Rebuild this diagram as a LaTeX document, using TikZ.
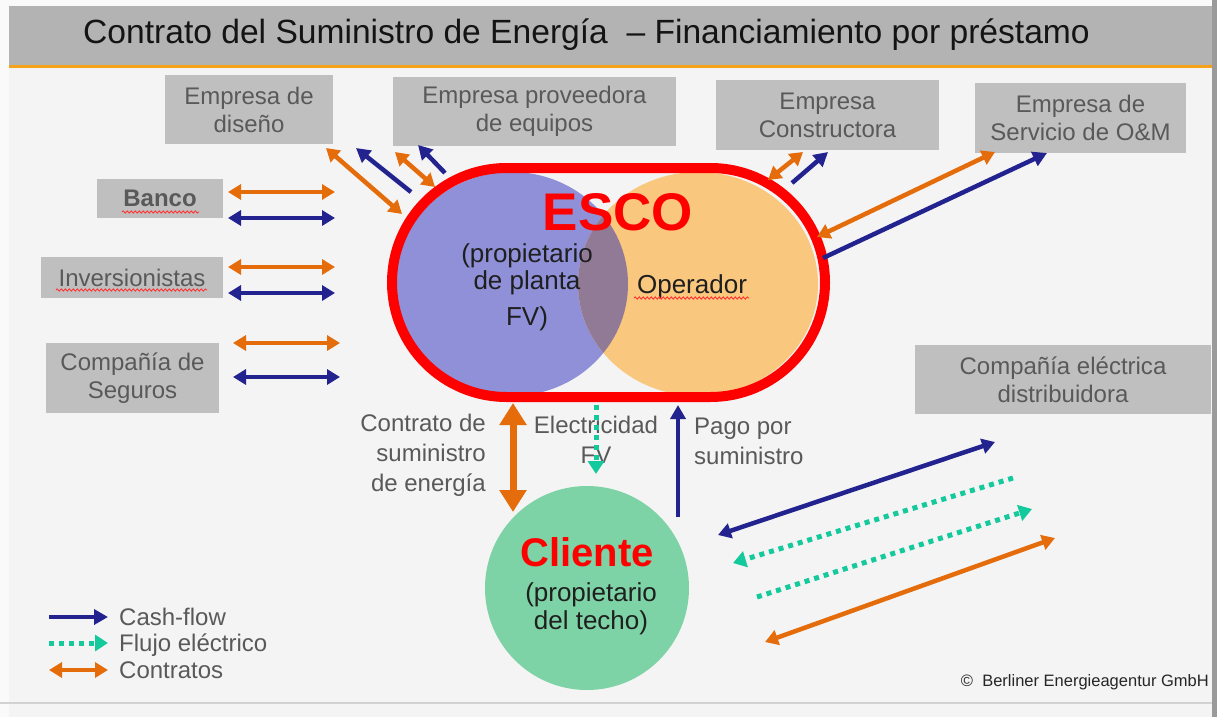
\documentclass[tikz,border=0pt]{standalone}
\usepackage{fontspec}
\setmainfont{Liberation Sans}
\usetikzlibrary{arrows.meta,decorations.pathmorphing,shapes.misc,shapes.geometric}
\definecolor{bgc}{HTML}{F4F4F4}
\definecolor{marginc}{HTML}{FAFAFA}
\definecolor{titlec}{HTML}{B3B3B3}
\definecolor{tlinec}{HTML}{F5A21B}
\definecolor{boxc}{HTML}{BFBFBF}
\definecolor{txtc}{HTML}{595959}
\definecolor{orac}{HTML}{E46C0A}
\definecolor{bluc}{HTML}{232390}
\definecolor{grnc}{HTML}{14C99B}
\definecolor{ownc}{HTML}{8F90D7}
\definecolor{opc}{HTML}{F9C77D}
\definecolor{ovc}{HTML}{917A96}
\definecolor{clic}{HTML}{7DD3A5}
\definecolor{redc}{HTML}{FF0000}
\definecolor{edgec}{HTML}{9A9A9A}
\definecolor{botc}{HTML}{D2D2D2}
\tikzset{
  gbox/.style={fill=boxc, text=txtc, font=\fontsize{24pt}{28pt}\selectfont, align=center, inner sep=0pt},
  lbl/.style={text=txtc, font=\fontsize{24pt}{30pt}\selectfont, inner sep=0pt},
  intxt/.style={text=black!88, font=\fontsize{26pt}{27pt}\selectfont, inner sep=0pt, align=center},
  oarr/.style={draw=orac, line width=4.5pt, arrows={Triangle[length=13pt,width=15pt]-Triangle[length=13pt,width=15pt]}},
  barr2/.style={draw=bluc, line width=4.5pt, arrows={Triangle[length=13pt,width=15pt]-Triangle[length=13pt,width=15pt]}},
  barr/.style={draw=bluc, line width=4.5pt, arrows={-Triangle[length=14pt,width=15pt]}},
  garr/.style={draw=grnc, line width=5pt, dash pattern=on 5pt off 5pt, arrows={-Triangle[length=13pt,width=16pt]}},
  wavy/.style={draw=redc!80!white, line width=0.9pt, decorate, decoration={snake, amplitude=1.1pt, segment length=4pt}}
}
\begin{document}
\begin{tikzpicture}[x=1pt,y=-1pt]
\useasboundingbox (0,0) rectangle (1217,717);
\fill[marginc] (0,0) rectangle (1217,717);
\fill[bgc] (9,6) rectangle (1212,717);
% title bar
\fill[titlec] (9,6) rectangle (1212,65);
\fill[tlinec] (9,65) rectangle (1212,67.5);
\node[font=\fontsize{33.6pt}{37pt}\selectfont, text=black!92, anchor=base, inner sep=0pt] (title) at (586.5,44) {Contrato del Suministro de Energía\ \ – Financiamiento por préstamo};
% frame edges
\fill[edgec] (1212,0) rectangle (1217,717);
\fill[botc] (0,701.5) rectangle (1212,703.5);

% boxes
\node[gbox, minimum width=168pt, minimum height=69pt] (dis) at (249,109.5) {Empresa de\\diseño};
\node[gbox, minimum width=283pt, minimum height=69pt] (prov) at (534.5,111.5) {Empresa proveedora\\de equipos};
\node[gbox, minimum width=223pt, minimum height=70pt] (cons) at (827.5,115) {Empresa\\Constructora};
\node[gbox, minimum width=211pt, minimum height=70pt] (om) at (1080.5,118) {Empresa de\\Servicio de O\&M};
\node[gbox, minimum width=126pt, minimum height=39pt, font=\bfseries\fontsize{24pt}{28pt}\selectfont] (banco) at (160,198.5) {Banco};
\node[gbox, minimum width=182pt, minimum height=41pt] (inv) at (132,277.5) {Inversionistas};
\node[gbox, minimum width=173pt, minimum height=70pt] (seg) at (132.5,378) {Compañía de\\Seguros};
\node[gbox, minimum width=296pt, minimum height=69pt] (dist) at (1063,379.5) {Compañía eléctrica\\distribuidora};

% ESCO
\begin{scope}
  \clip[rounded corners=114.5pt] (392,168) rectangle (825,397);
  \fill[ownc] (511.5,284) ellipse [x radius=116.5pt, y radius=112pt];
  \fill[opc] (698,284) ellipse [x radius=120pt, y radius=112pt];
  \clip (511.5,284) ellipse [x radius=116.5pt, y radius=112pt];
  \fill[ovc] (698,284) ellipse [x radius=120pt, y radius=112pt];
\end{scope}
\node[rounded rectangle, draw=redc, line width=10pt, minimum width=433pt, minimum height=229pt, inner sep=0pt] (esco) at (608.5,282.5) {};
\node[text=redc, font=\bfseries\fontsize{53pt}{56pt}\selectfont, anchor=base, inner sep=0pt] (escot) at (618,230) {ESCO};
\node[intxt, anchor=base] (own1) at (527,262) {(propietario};
\node[intxt, anchor=base] (own2) at (527,289) {de planta};
\node[intxt, anchor=base] (own3) at (527,325) {FV)};
\node[intxt, anchor=base] (oper) at (692,293) {Operador};

% Cliente
\node[circle, fill=clic, minimum size=204pt, inner sep=0pt] (cli) at (587,588) {};
\node[text=redc, font=\bfseries\fontsize{40pt}{44pt}\selectfont, anchor=base, inner sep=0pt] (clit) at (587,566) {Cliente};
\node[intxt, anchor=base] (cli1) at (591,601) {(propietario};
\node[intxt, anchor=base] (cli2) at (591,629) {del techo)};

% wavy underlines
\coordinate (wb1) at (122,212); \coordinate (wb2) at (199,212);
\coordinate (wi1) at (56,290); \coordinate (wi2) at (207,290);
\coordinate (wo1) at (634,298); \coordinate (wo2) at (749,298);
\draw[wavy] (wb1) -- (wb2);
\draw[wavy] (wi1) -- (wi2);
\draw[wavy] (wo1) -- (wo2);

% labels
\node[lbl, align=right, anchor=east] (lcon) at (486,455) {Contrato de\\suministro\\de energía};
\node[lbl, align=center] (lele) at (596,440) {Electricidad\\FV};
\node[lbl, align=left, anchor=west] (lpag) at (694,441) {Pago por\\suministro};

% left arrows
\coordinate (a1) at (228,192); \coordinate (b1) at (335,192);
\coordinate (a2) at (228,218); \coordinate (b2) at (335,218);
\coordinate (a3) at (228,267); \coordinate (b3) at (335,267);
\coordinate (a4) at (228,293); \coordinate (b4) at (335,293);
\coordinate (a5) at (233,343); \coordinate (b5) at (340,343);
\coordinate (a6) at (233,377); \coordinate (b6) at (340,377);
\draw[oarr] (a1) -- (b1);
\draw[barr2] (a2) -- (b2);
\draw[oarr] (a3) -- (b3);
\draw[barr2] (a4) -- (b4);
\draw[oarr] (a5) -- (b5);
\draw[barr2] (a6) -- (b6);

% top arrows
\coordinate (t1a) at (326,148); \coordinate (t1b) at (402,214);
\coordinate (t2a) at (411,192); \coordinate (t2b) at (356,148);
\coordinate (t3a) at (395,152); \coordinate (t3b) at (435,187);
\coordinate (t4a) at (445,173); \coordinate (t4b) at (418,145);
\draw[oarr] (t1a) -- (t1b);
\draw[barr] (t2a) -- (t2b);
\draw[oarr] (t3a) -- (t3b);
\draw[barr] (t4a) -- (t4b);
\coordinate (c1a) at (768,180); \coordinate (c1b) at (803,152);
\coordinate (c2a) at (792,183); \coordinate (c2b) at (828,152);
\draw[oarr] (c1a) -- (c1b);
\draw[barr] (c2a) -- (c2b);
\coordinate (m1a) at (817,237); \coordinate (m1b) at (995,152);
\coordinate (m2a) at (823,258); \coordinate (m2b) at (1047,153);
\draw[oarr] (m1a) -- (m1b);
\draw[barr] (m2a) -- (m2b);

% vertical arrows
\coordinate (v1a) at (513,403); \coordinate (v1b) at (513,512);
\draw[draw=orac, line width=7pt, arrows={Triangle[length=22pt,width=26pt]-Triangle[length=22pt,width=26pt]}] (v1a) -- (v1b);
\coordinate (v2a) at (596,405); \coordinate (v2b) at (596,474);
\draw[garr] (v2a) -- (v2b);
\coordinate (v3a) at (678,517); \coordinate (v3b) at (678,405);
\draw[barr] (v3a) -- (v3b);

% right diagonal arrows
\coordinate (r1a) at (718,535); \coordinate (r1b) at (995,442);
\coordinate (r2a) at (1013,478); \coordinate (r2b) at (733,563);
\coordinate (r3a) at (757,597); \coordinate (r3b) at (1032,509);
\coordinate (r4a) at (765,642); \coordinate (r4b) at (1055,538);
\draw[barr2] (r1a) -- (r1b);
\draw[garr] (r2a) -- (r2b);
\draw[garr] (r3a) -- (r3b);
\draw[oarr] (r4a) -- (r4b);

% legend
\coordinate (g1a) at (49,617); \coordinate (g1b) at (108,617);
\coordinate (g2a) at (49,643); \coordinate (g2b) at (108,643);
\coordinate (g3a) at (49,670); \coordinate (g3b) at (108,670);
\draw[barr] (g1a) -- (g1b);
\draw[garr] (g2a) -- (g2b);
\draw[oarr] (g3a) -- (g3b);
\node[lbl, anchor=base west] (lg1) at (119,625) {Cash-flow};
\node[lbl, anchor=base west] (lg2) at (119,651) {Flujo eléctrico};
\node[lbl, anchor=base west] (lg3) at (119,678) {Contratos};

% copyright
\node[font=\fontsize{16.5pt}{18pt}\selectfont, text=black!85, anchor=base east, inner sep=0pt] (copy) at (1209,686) {©\ \ Berliner Energieagentur GmbH};
\end{tikzpicture}
\end{document}
